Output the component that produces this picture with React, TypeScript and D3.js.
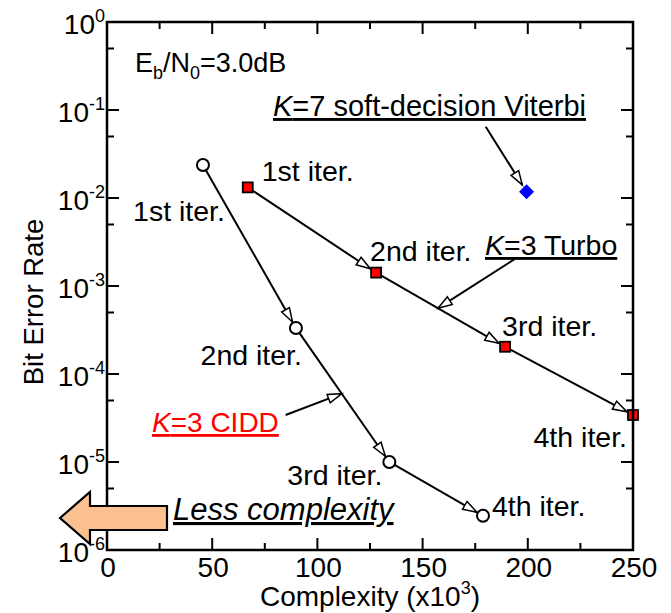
import React from 'react';
import * as d3 from 'd3';

// Complexity (x10^3) and bit error rate for each decoder
const cddComplexity = [45.6, 89.8, 134.2, 178.7];
const cddBer = [2.37e-2, 3.33e-4, 1.0e-5, 2.45e-6];
const turboComplexity = [66.9, 127.9, 189.2, 250];
const turboBer = [1.32e-2, 1.42e-3, 2.04e-4, 3.42e-5];
const viterbiComplexity = [199.4];
const viterbiBer = [1.18e-2];

const iterLabels = ['1st iter.', '2nd iter.', '3rd iter.', '4th iter.'];

const xTicks = [0, 50, 100, 150, 200, 250];
const xMinorTicks = [25, 75, 125, 175, 225];
const yExponents = [0, -1, -2, -3, -4, -5, -6];
const yMinorTicks = [5e-1, 5e-2, 5e-3, 5e-4, 5e-5, 5e-6];

const W = 671;
const H = 613;
const M = { left: 107, right: 633, top: 22, bottom: 550 };
const FONT = 'Liberation Sans, Arial, Helvetica, sans-serif';

const x = d3.scaleLinear().domain([0, 250]).range([M.left, M.right]);
const y = d3.scaleLog().domain([1, 1e-6]).range([M.top, M.bottom]);

type Pt = [number, number];

// label placement relative to each marker (pixels)
const cddLabelPos: { dx: number; dy: number; anchor: string }[] = [
  { dx: 22, dy: 56, anchor: 'end' },
  { dx: 6, dy: 37, anchor: 'end' },
  { dx: -7, dy: 23, anchor: 'end' },
  { dx: 9, dy: 0, anchor: 'start' },
];
const turboLabelPos: { dx: number; dy: number; anchor: string }[] = [
  { dx: 14, dy: -6, anchor: 'start' },
  { dx: -6, dy: -12, anchor: 'start' },
  { dx: -3, dy: -11, anchor: 'start' },
  { dx: -6, dy: 32, anchor: 'end' },
];

function ArrowLine({ a, b, r0, r1 }: { a: Pt; b: Pt; r0: number; r1: number }) {
  const dx = b[0] - a[0];
  const dy = b[1] - a[1];
  const len = Math.hypot(dx, dy);
  const ux = dx / len;
  const uy = dy / len;
  const s: Pt = [a[0] + ux * r0, a[1] + uy * r0];
  const t: Pt = [b[0] - ux * r1, b[1] - uy * r1];
  const hl = 14;
  const hw = 4.5;
  const bx = t[0] - ux * hl;
  const by = t[1] - uy * hl;
  const p1: Pt = [bx - uy * hw, by + ux * hw];
  const p2: Pt = [bx + uy * hw, by - ux * hw];
  return (
    <g>
      <line x1={s[0]} y1={s[1]} x2={t[0]} y2={t[1]} stroke="#000" strokeWidth={2} />
      <polygon
        points={`${t[0]},${t[1]} ${p1[0]},${p1[1]} ${p2[0]},${p2[1]}`}
        fill="#fff"
        stroke="#000"
        strokeWidth={1.5}
        strokeLinejoin="miter"
      />
    </g>
  );
}

function lerp(a: Pt, b: Pt, f: number): Pt {
  return [a[0] + (b[0] - a[0]) * f, a[1] + (b[1] - a[1]) * f];
}

export default function App() {
  const cdd: Pt[] = cddComplexity.map((c, i) => [x(c), y(cddBer[i])]);
  const turbo: Pt[] = turboComplexity.map((c, i) => [x(c), y(turboBer[i])]);
  const vit: Pt[] = viterbiComplexity.map((c, i) => [x(c), y(viterbiBer[i])]);

  const majorLen = 12;
  const minorLen = 7;

  return (
    <svg width={W} height={H} style={{ display: 'block', position: 'absolute', left: 0, top: 0 }} fontFamily={FONT}>
      <rect x={0} y={0} width={W} height={H} fill="#fff" />

      {/* connecting lines with open arrowheads */}
      {cdd.slice(1).map((p, i) => (
        <ArrowLine key={`cl${i}`} a={cdd[i]} b={p} r0={6} r1={7} />
      ))}
      {turbo.slice(1).map((p, i) => (
        <ArrowLine key={`tl${i}`} a={turbo[i]} b={p} r0={6} r1={7} />
      ))}

      {/* annotation pointers */}
      <ArrowLine a={[x(180), y(0.0646)]} b={vit[0]} r0={0} r1={8} />
      <ArrowLine a={[x(193.9), y(2.03e-3)]} b={lerp(turbo[1], turbo[2], 0.48)} r0={0} r1={0} />
      <ArrowLine a={[x(84.9), y(3.42e-5)]} b={lerp(cdd[1], cdd[2], 0.49)} r0={0} r1={0} />

      {/* markers */}
      {cdd.map((p, i) => (
        <circle key={`cm${i}`} cx={p[0]} cy={p[1]} r={6} fill="#fff" stroke="#000" strokeWidth={2} />
      ))}
      {turbo.map((p, i) => (
        <rect key={`tm${i}`} x={p[0] - 5} y={p[1] - 5} width={10} height={10} fill="#ff0000" stroke="#000" strokeWidth={1.8} />
      ))}
      {vit.map((p, i) => (
        <polygon
          key={`vm${i}`}
          points={`${p[0]},${p[1] - 7.5} ${p[0] + 7.5},${p[1]} ${p[0]},${p[1] + 7.5} ${p[0] - 7.5},${p[1]}`}
          fill="#0000ff"
        />
      ))}

      {/* frame */}
      <rect x={M.left} y={M.top} width={M.right - M.left} height={M.bottom - M.top} fill="none" stroke="#000" strokeWidth={2.5} />

      {/* x ticks (bottom and top, inward) */}
      {xTicks.map((t) => (
        <g key={`xt${t}`}>
          <line x1={x(t)} x2={x(t)} y1={M.bottom} y2={M.bottom - majorLen} stroke="#000" strokeWidth={2} />
          <line x1={x(t)} x2={x(t)} y1={M.top} y2={M.top + majorLen} stroke="#000" strokeWidth={2} />
          <text x={x(t) + 1} y={577} fontSize={28} textAnchor="middle">{t}</text>
        </g>
      ))}
      {xMinorTicks.map((t) => (
        <g key={`xm${t}`}>
          <line x1={x(t)} x2={x(t)} y1={M.bottom} y2={M.bottom - minorLen} stroke="#000" strokeWidth={2} />
          <line x1={x(t)} x2={x(t)} y1={M.top} y2={M.top + minorLen} stroke="#000" strokeWidth={2} />
        </g>
      ))}

      {/* y ticks (left and right, inward) */}
      {yExponents.map((e) => {
        const v = Math.pow(10, e);
        return (
          <g key={`yt${e}`}>
            <line x1={M.left} x2={M.left + majorLen} y1={y(v)} y2={y(v)} stroke="#000" strokeWidth={2} />
            <line x1={M.right} x2={M.right - majorLen} y1={y(v)} y2={y(v)} stroke="#000" strokeWidth={2} />
            <text x={105} y={y(v) + 12} fontSize={28} textAnchor="end">
              <tspan>10</tspan>
              <tspan fontSize={18} dy={-12}>{String(e)}</tspan>
            </text>
          </g>
        );
      })}
      {yMinorTicks.map((v) => (
        <g key={`ym${v}`}>
          <line x1={M.left} x2={M.left + minorLen} y1={y(v)} y2={y(v)} stroke="#000" strokeWidth={2} />
          <line x1={M.right} x2={M.right - minorLen} y1={y(v)} y2={y(v)} stroke="#000" strokeWidth={2} />
        </g>
      ))}

      {/* axis titles */}
      <text x={(M.left + M.right) / 2} y={606} fontSize={28} textAnchor="middle">
        <tspan>Complexity (x10</tspan>
        <tspan fontSize={18} dy={-12}>3</tspan>
        <tspan dy={12}>)</tspan>
      </text>
      <text transform={`translate(43,${(M.top + M.bottom) / 2 + 16}) rotate(-90)`} fontSize={27.5} textAnchor="middle">
        Bit Error Rate
      </text>

      {/* condition */}
      <text x={135} y={72} fontSize={27}>
        <tspan>E</tspan>
        <tspan fontSize={18} dy={7}>b</tspan>
        <tspan dy={-7}>/N</tspan>
        <tspan fontSize={18} dy={7}>0</tspan>
        <tspan dy={-7}>=3.0dB</tspan>
      </text>

      {/* iteration labels */}
      {cdd.map((p, i) => (
        <text key={`cLab${i}`} x={p[0] + cddLabelPos[i].dx} y={p[1] + cddLabelPos[i].dy} fontSize={28.5} textAnchor={cddLabelPos[i].anchor}>
          {iterLabels[i]}
        </text>
      ))}
      {turbo.map((p, i) => (
        <text key={`tLab${i}`} x={p[0] + turboLabelPos[i].dx} y={p[1] + turboLabelPos[i].dy} fontSize={28.5} textAnchor={turboLabelPos[i].anchor}>
          {iterLabels[i]}
        </text>
      ))}

      {/* decoder labels */}
      <text x={273} y={116} fontSize={29} textDecoration="underline">
        <tspan fontStyle="italic">K</tspan>
        <tspan>=7 soft-decision Viterbi</tspan>
      </text>
      <text x={485} y={255} fontSize={28.5} textDecoration="underline">
        <tspan fontStyle="italic">K</tspan>
        <tspan>=3 Turbo</tspan>
      </text>
      <text x={152} y={432} fontSize={28} fill="#ff0000" textDecoration="underline">
        <tspan fontStyle="italic">K</tspan>
        <tspan>=3 CIDD</tspan>
      </text>

      {/* less complexity block arrow */}
      <polygon
        points="60,518 90,492 90,506 167,506 167,530 90,530 90,544"
        fill="#fac090"
        stroke="#000"
        strokeWidth={2.2}
        strokeLinejoin="miter"
      />
      <text x={173} y={520} fontSize={31} fontStyle="italic" textDecoration="underline">
        Less complexity
      </text>
    </svg>
  );
}
